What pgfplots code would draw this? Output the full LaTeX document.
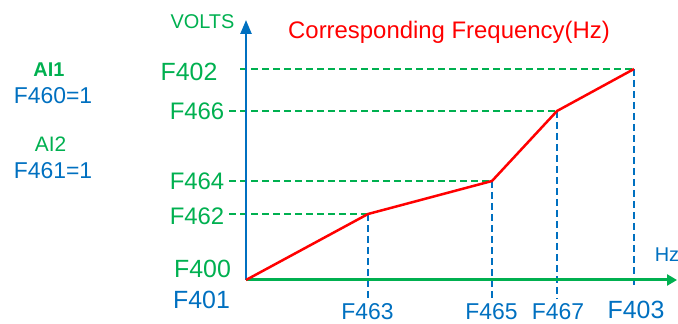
\documentclass[border=0pt]{standalone}
\usepackage{pgfplots}
\pgfplotsset{compat=1.18}
\usepackage{fontspec}
\setmainfont{Liberation Sans}
\usetikzlibrary{arrows.meta}
\definecolor{cgreen}{RGB}{0,176,80}
\definecolor{cblue}{RGB}{0,112,192}
\definecolor{cred}{RGB}{255,0,0}
\newcommand{\fs}[1]{\fontsize{#1}{#1}\selectfont}
\begin{document}
\begin{tikzpicture}
\begin{axis}[
  scale only axis, width=678bp, height=324bp,
  xmin=-246, xmax=432, ymin=-44, ymax=280,
  hide axis, clip=false,
  every node/.style={inner sep=0pt, outer sep=0pt},
]
% green horizontal guides
\addplot[cgreen, line width=2bp, dash pattern=on 7bp off 4bp] coordinates {(-6,211) (388,211)};
\addplot[cgreen, line width=2bp, dash pattern=on 7bp off 4bp] coordinates {(-17,169) (311,169)};
\addplot[cgreen, line width=2bp, dash pattern=on 7bp off 4bp] coordinates {(-17,99) (246,99)};
\addplot[cgreen, line width=2bp, dash pattern=on 7bp off 4bp] coordinates {(-17,66) (122,66)};
% blue vertical guides
\addplot[cblue, line width=2bp, dash pattern=on 7bp off 4bp] coordinates {(122,66) (122,-18)};
\addplot[cblue, line width=2bp, dash pattern=on 7bp off 4bp] coordinates {(246,99) (246,-18)};
\addplot[cblue, line width=2bp, dash pattern=on 7bp off 4bp] coordinates {(311,169) (311,-19)};
\addplot[cblue, line width=2bp, dash pattern=on 7bp off 4bp] coordinates {(388,211) (388,-8)};
% axes
\addplot[cblue, line width=2.5bp, -{Triangle[width=11bp,length=14bp]}] coordinates {(0,0) (0,260)};
\addplot[cgreen, line width=3bp, -{Triangle[width=11bp,length=10bp]}] coordinates {(0,0) (431,0)};
% curve
\addplot[cred, line width=2.5bp] coordinates {(0,0) (122,66) (246,99) (311,169) (388,211)};
% texts
\node[text=cgreen, font=\fs{20}] at (axis cs:-43.5,258) {VOLTS};
\node[text=cred, font=\fs{24}] at (axis cs:203,248) {Corresponding Frequency(Hz)};
\node[text=cblue, font=\fs{20}] at (axis cs:421,25) {Hz};
\node[text=cgreen, font=\fs{20}\bfseries] at (axis cs:-197,210) {AI1};
\node[text=cblue, font=\fs{23}] at (axis cs:-193,184) {F460=1};
\node[text=cgreen, font=\fs{21}] at (axis cs:-195.5,136) {AI2};
\node[text=cblue, font=\fs{23}] at (axis cs:-193,109) {F461=1};
\node[text=cgreen, font=\fs{25}] at (axis cs:-57,208) {F402};
\node[text=cgreen, font=\fs{24}] at (axis cs:-49,169) {F466};
\node[text=cgreen, font=\fs{24}] at (axis cs:-49,99) {F464};
\node[text=cgreen, font=\fs{24}] at (axis cs:-49,64) {F462};
\node[text=cgreen, font=\fs{25}] at (axis cs:-43.5,11) {F400};
\node[text=cblue, font=\fs{25}] at (axis cs:-44.5,-20) {F401};
\node[text=cblue, font=\fs{23}] at (axis cs:121.5,-32) {F463};
\node[text=cblue, font=\fs{23}] at (axis cs:245.5,-32) {F465};
\node[text=cblue, font=\fs{23}] at (axis cs:312,-32) {F467};
\node[text=cblue, font=\fs{25}] at (axis cs:390,-30) {F403};
\coordinate (bl) at (rel axis cs:0,0);
\coordinate (tr) at (rel axis cs:1,1);
\end{axis}
\pgfresetboundingbox
\path[use as bounding box] (bl) rectangle (tr);
\end{tikzpicture}
\end{document}
